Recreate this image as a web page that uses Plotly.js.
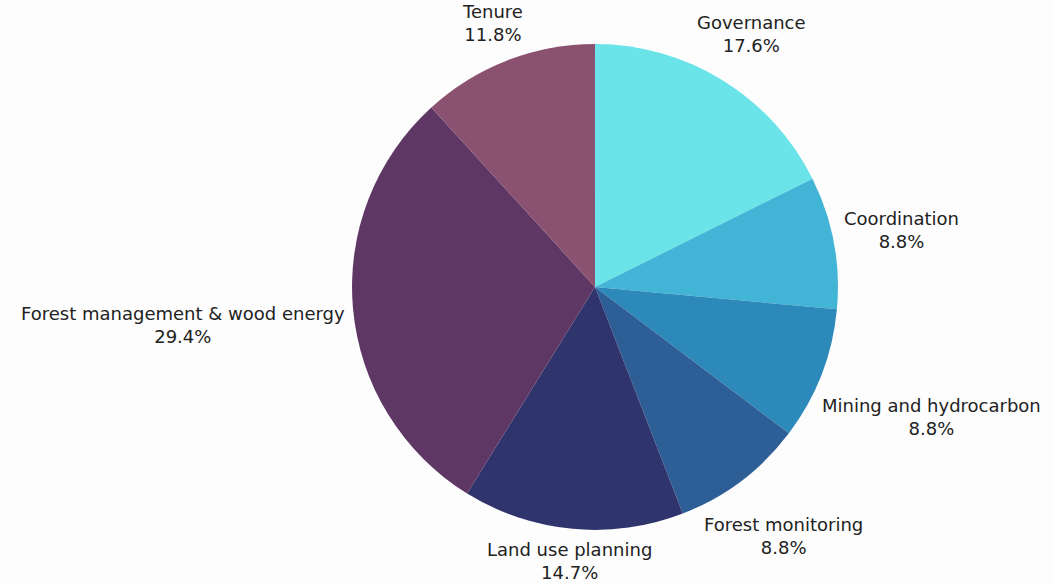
<!DOCTYPE html>
<html><head><meta charset="utf-8">
<script src="https://cdn.plot.ly/plotly-3.0.1.min.js"></script>
<style>html,body{margin:0;padding:0;background:#fdfdfd;}#chart{width:1054px;height:585px;}</style>
</head><body><div id="chart"></div>
<script>
const categories = ["Governance","Coordination","Mining and hydrocarbon","Forest monitoring","Land use planning","Forest management & wood energy","Tenure"];
const values = [6,3,3,3,5,10,4];
const colors = ["#6ae4e9","#42b5d6","#2d89b9","#2e5e96","#30346c","#5e3764","#8a5170"];

const W = 1054, H = 585;
const domX = [0.334, 0.795], domY = [0.094, 0.925];
const FONT = "DejaVu Sans", FS = 18;

// pie geometry derived from the domain
const cx = (domX[0] + domX[1]) / 2 * W;
const cy = H * (1 - (domY[0] + domY[1]) / 2);
const R = Math.min((domX[1] - domX[0]) * W, (domY[1] - domY[0]) * H) / 2;

const ctx = document.createElement("canvas").getContext("2d");
ctx.font = FS + "px '" + FONT + "'";
const total = values.reduce((a, b) => a + b, 0);
let cum = 0;
const annotations = categories.map((lab, i) => {
  const pct = (values[i] / total * 100).toFixed(1) + "%";
  const mid = (cum + values[i] / 2) / total * 2 * Math.PI;
  cum += values[i];
  const ux = Math.sin(mid), uy = -Math.cos(mid);
  const a = Math.max(ctx.measureText(lab).width, ctx.measureText(pct).width) / 2;
  const b = FS * 1.3;
  const target = R + 8;
  let lo = 0, hi = 1000;
  for (let k = 0; k < 60; k++) {
    const d = (lo + hi) / 2;
    const dx = Math.max(Math.abs(ux * d) - a, 0), dy = Math.max(Math.abs(uy * d) - b, 0);
    if (Math.hypot(dx, dy) < target) lo = d; else hi = d;
  }
  const px = cx + ux * lo, py = cy + uy * lo;
  return {
    x: px / W, y: 1 - py / H, xref: "paper", yref: "paper",
    xanchor: "center", yanchor: "middle", showarrow: false,
    text: lab + "<br>" + pct, align: "center",
    font: {family: FONT + ", sans-serif", size: FS, color: "#222"}
  };
});

Plotly.newPlot("chart", [{
  type: "pie",
  labels: categories,
  values: values,
  sort: false,
  direction: "clockwise",
  rotation: 0,
  marker: {colors: colors, line: {width: 0}},
  textinfo: "none",
  textposition: "none",
  hoverinfo: "label+percent",
  domain: {x: domX, y: domY},
  automargin: false
}], {
  width: W, height: H,
  margin: {l: 0, r: 0, t: 0, b: 0},
  paper_bgcolor: "#fdfdfd",
  plot_bgcolor: "#fdfdfd",
  showlegend: false,
  annotations: annotations
}, {displayModeBar: false});
</script></body></html>
